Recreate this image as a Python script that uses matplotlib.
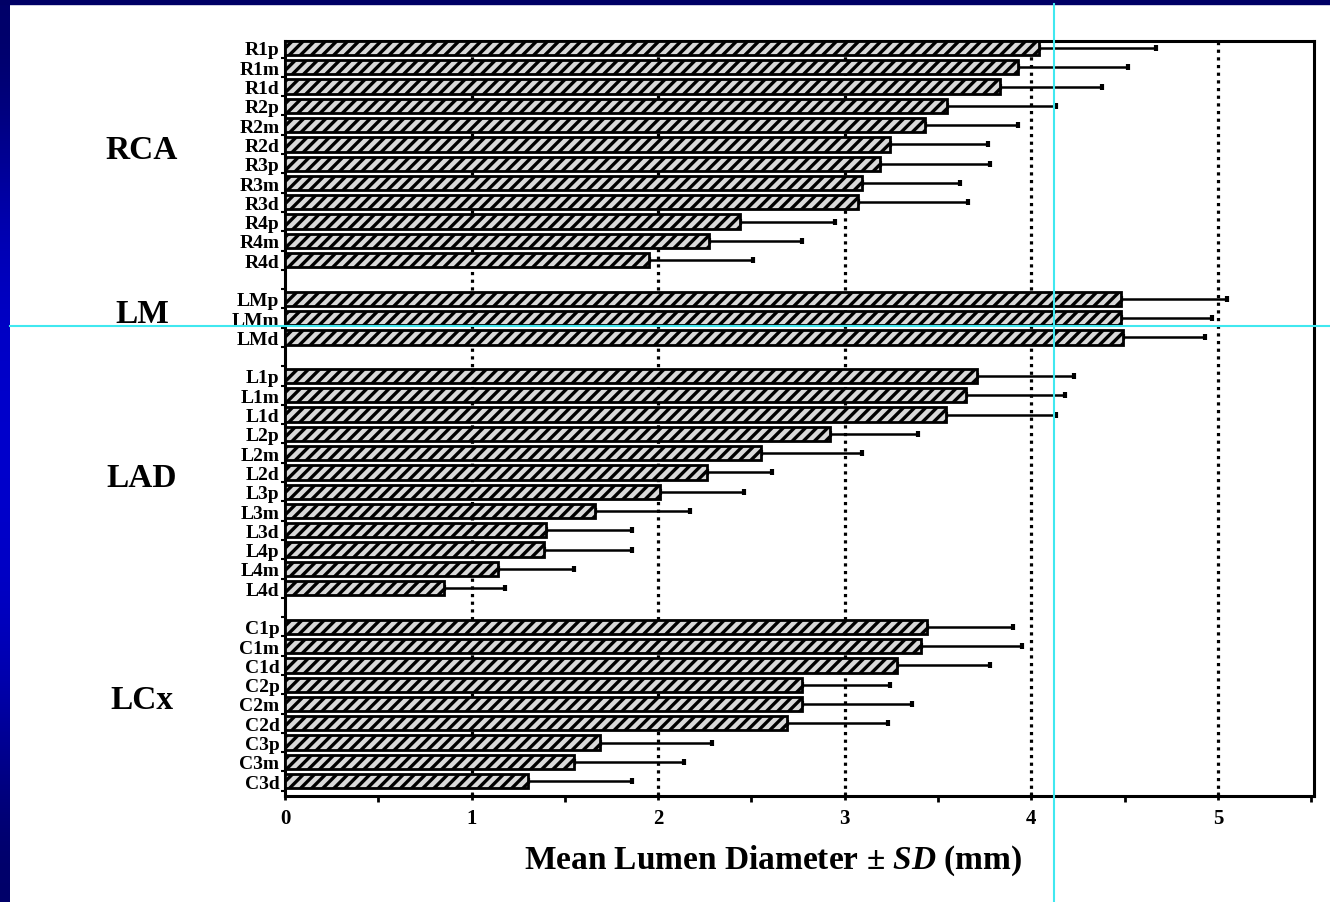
import numpy as np
import matplotlib.pyplot as plt
from matplotlib.colors import LinearSegmentedColormap
from matplotlib.patches import Rectangle
from matplotlib.lines import Line2D
from matplotlib.transforms import blended_transform_factory
from matplotlib.ticker import MultipleLocator, FixedLocator

# segment names per artery group
groups = ['RCA', 'LM', 'LAD', 'LCx']
rca_labels = ['R1p', 'R1m', 'R1d', 'R2p', 'R2m', 'R2d', 'R3p', 'R3m', 'R3d', 'R4p', 'R4m', 'R4d']
lm_labels = ['LMp', 'LMm', 'LMd']
lad_labels = ['L1p', 'L1m', 'L1d', 'L2p', 'L2m', 'L2d', 'L3p', 'L3m', 'L3d', 'L4p', 'L4m', 'L4d']
lcx_labels = ['C1p', 'C1m', 'C1d', 'C2p', 'C2m', 'C2d', 'C3p', 'C3m', 'C3d']

# mean lumen diameter (mm) and SD
rca_mean = [4.04, 3.93, 3.83, 3.55, 3.43, 3.24, 3.19, 3.09, 3.07, 2.44, 2.27, 1.95]
rca_sd = [0.63, 0.59, 0.55, 0.58, 0.50, 0.53, 0.59, 0.53, 0.59, 0.51, 0.50, 0.56]
lm_mean = [4.48, 4.48, 4.49]
lm_sd = [0.57, 0.49, 0.44]
lad_mean = [3.71, 3.65, 3.54, 2.92, 2.55, 2.26, 2.01, 1.66, 1.40, 1.39, 1.14, 0.85]
lad_sd = [0.52, 0.53, 0.59, 0.47, 0.54, 0.35, 0.45, 0.51, 0.46, 0.47, 0.41, 0.33]
lcx_mean = [3.44, 3.41, 3.28, 2.77, 2.77, 2.69, 1.69, 1.55, 1.30]
lcx_sd = [0.46, 0.54, 0.50, 0.47, 0.59, 0.54, 0.60, 0.59, 0.56]

x_ticks = [0, 1, 2, 3, 4, 5]

plt.rcParams['hatch.linewidth'] = 2.4
plt.rcParams['font.family'] = ['Liberation Serif', 'DejaVu Serif']
plt.rcParams['font.weight'] = 'bold'
plt.rcParams['mathtext.fontset'] = 'custom'
plt.rcParams['mathtext.it'] = 'Liberation Serif:italic:bold'
plt.rcParams['mathtext.rm'] = 'Liberation Serif:bold'

fig = plt.figure(figsize=(13.3, 9.03), dpi=100)
fig.patch.set_facecolor('white')

# slide frame: blue strip at left and top
grad = fig.add_axes([0, 0, 10 / 1330, 1])
grad.imshow(np.array([[0.0], [0.8], [1.0], [1.0], [0.8], [0.0]]), aspect='auto',
            cmap=LinearSegmentedColormap.from_list('b', ['#000066', '#0000cc']),
            interpolation='bicubic')
grad.axis('off')
fig.patches.append(Rectangle((0, 1 - 5 / 903), 1, 5 / 903, transform=fig.transFigure,
                             color='#000066', zorder=5))

ax = fig.add_axes([285 / 1330, 1 - 797 / 903, 1029 / 1330, 755 / 903])

all_labels = []
all_mean = []
all_sd = []
ypos = []
centers = []
pos = 0
for labs, m, s in [(rca_labels, rca_mean, rca_sd), (lm_labels, lm_mean, lm_sd),
                   (lad_labels, lad_mean, lad_sd), (lcx_labels, lcx_mean, lcx_sd)]:
    ys = list(range(pos, pos + len(labs)))
    centers.append(np.mean(ys))
    ypos += ys
    all_labels += labs
    all_mean += m
    all_sd += s
    pos += len(labs) + 1

ypos = np.array(ypos)
ax.barh(ypos, all_mean, height=0.74, color='#d9d9d9', edgecolor='black',
        hatch='///', linewidth=2.0, zorder=3)
ax.errorbar(all_mean, ypos, xerr=[np.zeros(len(all_sd)), all_sd], fmt='none',
            ecolor='black', elinewidth=1.8, capsize=2.5, capthick=3, zorder=2)

for x in x_ticks[1:]:
    ax.axvline(x, color='black', linestyle=(0, (1, 1.4)), linewidth=2.3, zorder=1)

ax.set_xlim(0, 5.515)
ax.set_ylim(38.77, -0.36)
ax.set_xticks(x_ticks)
ax.set_xticklabels([str(t) for t in x_ticks], fontsize=15, fontweight='bold')
ax.xaxis.set_minor_locator(MultipleLocator(0.5))
ax.tick_params(axis='x', which='major', length=6, width=2, direction='inout', pad=6)
ax.tick_params(axis='x', which='minor', length=4, width=2, direction='out')
ax.set_yticks(ypos)
ax.set_yticklabels(all_labels, fontsize=14, fontweight='bold')
ax.yaxis.set_minor_locator(FixedLocator(np.arange(-0.5, 39, 1.0)))
ax.tick_params(axis='y', which='major', length=0, pad=4)
ax.tick_params(axis='y', which='minor', length=3, width=1.5, direction='out')
for sp in ax.spines.values():
    sp.set_linewidth(2.2)

# group names, drawn with their baseline just below the group centre
lab_tr = blended_transform_factory(fig.transFigure, ax.transData)
for g, c in zip(groups, centers):
    ax.text(142 / 1330, c + 0.22, g, transform=lab_tr,
            ha='center', va='baseline', fontsize=24, fontweight='bold')

fig.text((484 + 1062) / 2 / 1330, 1 - 861 / 903, 'Mean Lumen Diameter \u00b1 $\\mathit{SD}$ (mm)',
         ha='center', va='center', fontsize=24, fontweight='bold')

# cyan guide lines seen on the slide
fig.lines.append(Line2D([1054 / 1330, 1054 / 1330], [0, 1 - 5 / 903], transform=fig.transFigure,
                        color='#40e8f0', linewidth=1.5, zorder=10))
fig.lines.append(Line2D([10 / 1330, 1], [1 - 327 / 903, 1 - 327 / 903], transform=fig.transFigure,
                        color='#40e8f0', linewidth=1.5, zorder=10))

fig.savefig('out.png', dpi=100, facecolor=fig.get_facecolor())
